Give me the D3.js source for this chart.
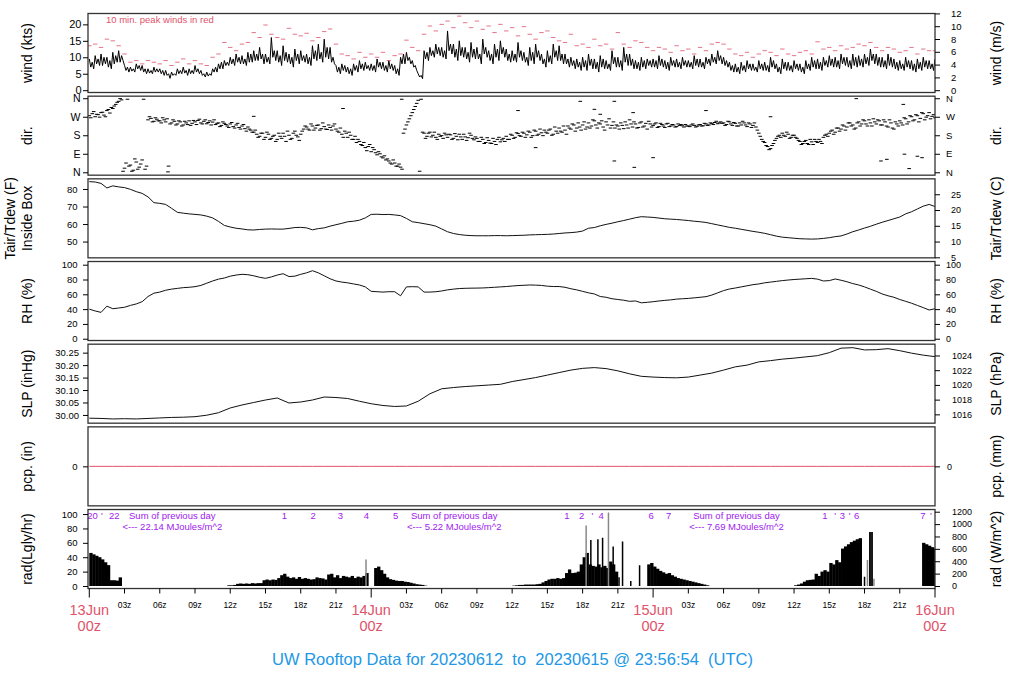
<!DOCTYPE html>
<html><head><meta charset="utf-8">
<script src="https://cdn.jsdelivr.net/npm/d3@7"></script>
<style>body{margin:0;background:#fff}svg{display:block}</style>
</head><body><svg id="c" width="1024" height="700"></svg>
<script>
// ---------------- DATA ----------------
// wind speed (kts), every 7.5 min from 13Jun 00z (one row = 3 h)
const WIND_STEP = 0.125;
const windKts = [
9.5,7,8.5,6.5,10.5,8,9.5,7.5,11,7.5,10,8,10,7,9,6.5,11.5,8,10.5,8.5,12,8.5,10.5,9,
7.5,6,7,5.5,7,5.8,6.5,5.5,8,6.5,7.5,6,7.5,5.5,6.5,5,6.5,5.2,6,5,7,5.5,6.5,5.5,
6.5,5,6,4.5,6,4.5,5,3.6,5.5,4.5,5,4.5,6.5,5,6,5,7,5.2,6,4.5,6.5,5,6,5,
7.5,5.5,6.5,5,6,4.5,5,4,5.5,4.3,5,4.5,6.5,5.5,7,5.5,8,6.5,8.5,6.5,9,7.5,8.5,7.5,
10,8,9.5,7.5,11,8.5,10,8,10.5,8,9.5,7.5,11.5,8.5,11,8.5,12,9,11,9,13,9.5,11,8,
11,8.5,10,8,16,10,12,9,12,8.5,10.5,7.5,13.5,9,11.5,8.5,11,8,10,7,12.5,9,11,8,
12,9,10.5,8.5,11,8,10,7.5,13.5,9.5,12,9,14,9.5,11.5,8.5,15.5,10,13,9.5,13,8.5,10,8,
7.5,5.5,7,5,8,6,7.5,5.5,7,5,6.5,4.5,8,6,7.5,5.5,9,6.5,8,6,8.5,6.5,7.5,6,
8,6,7.5,5.5,9.5,7,8.5,6.5,8.5,6,7.5,5.5,9,6.5,8,6,7.5,5,6.5,4.5,10,8,11,8,
11.5,9,10,8,9,7,7.5,6,5,4,4.5,3.5,12,9.5,11.5,9,13,10.5,12,10,14,11,13,10.5,
13,10,12,9.5,18,12,14,11,14,10,12.5,9,15,10.5,13,10,13,9.5,11.5,8.5,14.5,10,12.5,9.5,
13,9.5,11,8,15.5,11,13,10,12,9,11,8,14,10,12.5,9,15,11,13,10,12.5,9,11,8.5,
12,9,11,8.5,14.5,10,12,9,11.5,8.5,10,7.5,13,9,11.5,8,14,10,12,9,11,8,9.5,7,
12,8.5,10.5,8,14,10,12,9,13.5,9,11,8,11,8,9.5,7,10,7.5,9,6.5,9.5,7,8.5,6,
10,7,9,6,11,7.5,9.5,6.5,9.5,6.5,8.5,5.5,10.5,7,9.5,6.5,9,6.5,8,6,12,8,10,7,
10,7,9,6,13,8.5,11,7.5,11,7.5,9.5,6.5,9,6.5,8.5,6,10,7,9,6.5,9.5,7.5,9,7,
9.5,7,9,6.5,10.5,7.5,9.5,7,9,6.5,8.5,6,10,7.5,9,7,9.5,7,8.5,6.5,10,7.5,9,7,
9,7,8.5,6.5,10.5,7.5,9.5,7,9.5,7,8.5,6.5,10,8,9.5,7.5,11,8.5,10,8,12,9,10.5,8,
10,7.5,9,7,8.5,6,7.5,5.5,8,5.5,7,5,8.5,6,7.5,5.5,9,6.5,8,6,8,6,7,5.5,
9,6.5,8,6,8.5,6,7.5,5.5,10,7,9,6.5,8,5.5,7,5,9.5,6.5,8.5,6,8.5,6,7.5,5.5,
9,6.5,8,6,8,5.5,7,5,9,6.5,8,6,10,7,9,6.5,9.5,6.5,8.5,6,10,7.5,9,7,
10.5,7.5,9.5,7,10,7,9,6.5,11,8,10,7.5,10,7,9,6.5,11,7.5,10,7,10.5,7.5,9.5,7,
11,8,10,7.5,12.5,9,11,8,11,7.5,10,7,10,7,9,6.5,11,7.5,10,7,9.5,6.5,8.5,6,
9,6.5,8,6,10,7,9,6.5,9,6,8,5.5,9.5,6.5,8.5,6,10,7,9,6.5,9,6.5,8,6,
9.5];
// 10-min peak winds (kts), every 30 min
const PEAK_STEP = 0.5;
const peakKts = [
13.5,14,13,15.5,15,13.5,
11,8.5,9,8,9,8.5,
8,9,7.5,8.5,9.5,8,
9,8,7.5,10,11,14.5,
13,12,14,14.5,17.5,16,
19.8,17,16,15.5,18.8,17,
16.5,17.3,15,16,17.8,18.6,
14,11,10.5,9.5,11.5,10,
11,10,11.5,9,10.5,11,
15.2,13,12,17,19.5,18,
20,21,19,22.5,20.5,19,
21,18.5,19.5,17.5,20,18,
19,16.5,19.3,17,15.5,17.5,
18,16,15,14.5,17,13.5,
14,13,15.5,13.5,14,12.5,
17.5,14,13,15,14.5,13,
12,13,12.5,11.5,13.5,12,
12.5,11,13,12,14,14.5,
14,12.5,11,10.5,11.5,10,
11,12,11.5,10.5,12.5,11,
10.5,11.5,12,11,14.7,12.5,
13,12,13.5,12.5,13,14,
13.5,14.5,13,12,13,12.5,
11.5,12,13,11,12.5,12,
12];
// wind direction (deg), every 15 min on the quarter hour ...
const DIR_STEP = 0.25;
const dirDeg = [
275,285,270,280,290,278,300,288,310,330,345,352,
20,355,35,10,50,25,60,15,255,262,248,258,
250,265,245,30,240,248,235,245,230,240,250,238,
245,252,240,248,236,250,244,232,240,228,238,225,
235,222,230,218,225,212,220,205,195,185,175,190,
170,185,165,180,160,175,190,150,180,165,200,172,
185,210,220,205,225,215,230,212,222,208,218,225,
210,195,185,200,170,180,160,145,150,130,120,125,
100,110,85,90,70,60,55,40,45,30,25,190,
230,260,290,320,350,355,190,175,195,180,170,185,
178,190,170,182,165,175,185,160,172,168,180,158,
165,150,160,145,155,140,150,160,148,165,175,160,
180,170,188,175,190,182,195,178,200,185,192,205,
190,210,185,200,215,195,205,225,210,230,215,220,
230,210,240,225,250,215,235,220,245,260,228,215,
225,240,212,230,255,220,235,218,245,225,210,235,
228,240,222,232,218,238,225,230,222,228,226,232,
225,230,228,224,232,226,235,230,238,242,236,245,
240,232,245,228,238,225,230,240,222,235,228,220,
190,160,145,125,115,140,165,180,190,175,185,170,
180,165,150,140,155,135,148,160,145,150,170,185,
190,205,195,215,210,225,220,240,230,215,245,235,
250,225,240,260,235,250,230,245,220,240,210,235,
250,230,260,245,270,255,275,262,285,268,290,272,
265];
// ... and 7.5 min after each quarter hour
const dirDegMid = [
265,295,282,268,292,270,305,315,322,340,358,5,
45,30,5,65,15,40,355,30,270,245,265,250,
240,255,260,235,255,230,250,225,248,232,228,252,
232,258,235,255,242,230,255,238,222,245,232,218,
242,215,238,210,232,200,210,195,205,170,190,160,
195,160,175,150,190,165,175,200,160,190,180,155,
200,225,210,235,205,228,205,240,210,230,205,235,
200,215,170,190,195,160,175,160,135,145,105,135,
120,95,100,75,80,65,45,60,30,40,15,210,
245,275,305,335,5,195,165,190,172,195,160,175,
165,182,185,160,188,158,172,185,155,190,165,172,
150,170,140,168,142,165,135,170,158,150,160,185,
165,192,178,195,170,200,170,205,180,210,178,195,
205,180,220,190,200,225,185,215,235,200,240,205,
245,220,215,255,230,240,250,205,230,215,245,230,
210,228,245,215,235,245,215,240,220,238,248,220,
235,218,238,225,235,222,232,220,235,232,220,225,
222,235,220,230,225,238,228,240,232,248,240,238,
228,248,235,242,225,240,248,230,240,218,240,205,
175,150,130,110,130,155,175,170,180,195,165,180,
170,155,135,150,140,160,135,150,160,140,180,175,
200,185,215,200,230,205,240,225,210,240,225,255,
235,255,225,245,255,230,255,225,255,215,245,225,
240,265,235,275,250,280,245,290,255,275,260,280];
const dirOutliers = [[6.7,2],[14.0,272],[21.6,310],[26.6,355],[36.5,300],[38.0,120],[41.8,345],[43.0,306],[43.5,282],[44.7,345],[44.7,55],[46.3,290],[46.4,24],[48.0,71],[52.5,300],[58.0,270],[65.3,358],[67.4,55],[67.9,63],[69.3,330],[69.4,88],[69.8,18],[70.5,78],[70.9,71]];
// inside-box air temperature (F), every 30 min
const TEMP_STEP = 0.5;
const tempF = [
84.2,84.0,83.2,80.6,81.8,81.2,
80.8,79.8,78.5,77.5,75.5,72.2,
71.8,71.2,69.0,66.7,66.2,65.8,
65.5,65.2,64.5,63.5,61.5,59.2,
58.3,57.6,57.2,56.7,56.6,56.9,
57.1,57.2,57.1,57.1,57.5,58.0,
58.1,57.8,56.7,57.4,57.8,58.8,
59.6,60.4,61.3,61.6,62.2,63.5,
65.5,65.6,65.4,65.5,65.2,64.8,
63.2,61.3,60.8,60.2,59.6,58.8,
57.2,55.6,54.6,54.0,53.6,53.4,
53.3,53.3,53.3,53.4,53.4,53.3,
53.4,53.5,53.6,53.8,53.9,54.0,
54.1,54.3,54.6,54.9,55.1,55.4,
56.0,57.6,58.0,59.0,59.8,60.5,
61.3,62.0,62.8,63.6,64.2,64.0,
63.8,63.4,63.0,62.8,62.6,62.3,
62.0,61.6,61.3,60.9,60.2,59.5,
58.8,58.1,57.6,57.0,56.4,55.8,
55.3,54.7,53.9,53.1,52.5,52.2,
51.9,51.6,51.5,51.4,51.5,51.8,
52.2,52.8,53.2,54.3,55.6,56.6,
57.7,58.7,59.9,61.0,62.0,63.0,
64.0,65.8,67.0,68.6,70.2,71.2,
70.0];
// relative humidity (%), every 30 min
const RH_STEP = 0.5;
const rhPct = [
40,37.5,35.6,44,40.5,41.5,
42.5,45,47,50,57,61.5,
63,65.5,67,68,69,69.5,
70.3,72,75,78,80.5,82,
84.5,86,87,86.5,85,83,
81.6,83.5,86,87.8,84,84.5,
87,89,91.9,89,85,81,
78,76.5,75.5,74,72.6,70,
64,63.5,63,63.5,63.5,58,
70,70.3,70,63,63,63.5,
64.5,66,67,67.8,68.1,68.3,
68.4,68.6,69,69.5,70,70.5,
71.2,71.8,72.2,72.6,72.4,72,
71,70.5,70.5,69.5,67.5,66,
64,62,60.5,57,56,54,
53,52,50.5,51,48.5,49.2,
50,51,51.8,52.5,53.5,54,
54.5,55.2,56,56.8,59,62,
65,67.2,68.5,70,71.5,73,
74,75.5,76.5,77.5,78.5,79.3,
80,80.5,81,81.5,80.5,78,
78.5,80.7,79,77,74.5,72.6,
70,67,64,60.5,58,56,
53,50.5,48,45,42,38.8,
40.5];
// sea level pressure (inHg), hourly
const SLP_STEP = 1;
const slpInHg = [
29.987,29.986,29.984,29.985,29.984,29.986,29.988,29.990,29.991,29.993,29.999,30.009,
30.028,30.040,30.050,30.060,30.068,30.048,30.052,30.060,30.072,30.070,30.066,30.055,
30.045,30.038,30.034,30.036,30.055,30.085,30.105,30.110,30.114,30.117,30.120,30.123,
30.134,30.142,30.150,30.160,30.170,30.180,30.187,30.190,30.186,30.177,30.165,30.155,
30.152,30.150,30.149,30.152,30.160,30.168,30.180,30.193,30.200,30.213,30.218,30.224,
30.228,30.233,30.238,30.250,30.268,30.270,30.261,30.262,30.266,30.258,30.248,30.240,
30.234];
// precipitation (in), hourly
const PCP_STEP = 1;
const pcpIn = [0,0,0,0,0,0,0,0,0,0,0,0,0,0,0,0,0,0,0,0,0,0,0,0,0,0,0,0,0,0,0,0,0,0,0,0,0,0,0,0,0,0,0,0,0,0,0,0,0,0,0,0,0,0,0,0,0,0,0,0,0,0,0,0,0,0,0,0,0,0,0,0,0];
// solar radiation (Langley/hr), every 15 min within each sunlit stretch
const RAD_STEP = 0.25;
const radStarts = [0, 11.75, 36, 60, 70.9];
const radA = [46,44,42,40,37,33,29,8,8,7.5,12];
const radB = [1,1,1.5,3,3.5,3,3.5,3,4,3.5,4,4,
8,9,8,9,8.5,11,15,17,13,11,12,10,
12.5,10,11,10,9,9.5,12,11,10.5,9,16,17,
12,15,11,14,13,12,14,11,13,12,14,18,
0,0,25,27,22,17,12,9.5,8.5,7.5,7,7,
6,5.5,4.5,3.5,2.5,2,1.5,0.5];
const radC = [0.5,1,1.5,1.5,2,2,2,2,2.5,3,5,7,
9,10,10,11,10,11,18,23,18,18.5,20,30,
40,46,30,28,27,30,26,28,25,34,30,20,
0,0,0,0,0,0,0,0,0,0,
30,32,27,24,21,19,17,18,15,13,
11,10,9,8,7,6,5,4,3,2,1];
const radD = [1,2,3.5,6,8,8.5,9,17,14,20,22,20,
32,30,36,33,52,55,58,61,63,65,66.5];
const radE = [60,58,56,54,52];
const radSpikes = [[23.56,37,1],[42.3,84,1],[42.7,64,0],[43.3,65,0],[43.7,67,0],[44.2,102,1],[44.6,55,0],[45.1,12,0],[45.4,62,0],[46.1,7,0],[46.85,29,0],[66.0,13,0],[66.25,36,1],[66.45,75,0],[66.55,75,0],[66.65,75,0],[66.8,10,1]];
const radHourMarks = [[0.27,"20"],[1.08,"'"],[2.13,"22"],[16.61,"1"],[19.06,"2"],[21.37,"3"],[23.59,"4"],[26.09,"5"],
 [40.67,"1"],[41.91,"2"],[42.84,"'"],[43.58,"4"],[47.84,"6"],[49.32,"7"],
 [62.63,"1"],[63.49,"'"],[64.12,"3"],[64.73,"'"],[65.32,"6"],[70.98,"7"],[71.66,"'"]];
const radSumCenters = [7.07, 31.07, 55.1];
const radSumValues = ["22.14","5.22","7.69"];
// axis ticks / labels
const windTicksKts = [0,5,10,15,20];
const windTicksMs = [0,2,4,6,8,10,12];
const dirTicks = [0,90,180,270,360];
const dirLabels = ["N","E","S","W","N"];
const tempTicksF = [50,60,70,80];
const tempTicksC = [5,10,15,20,25];
const rhTicks = [0,20,40,60,80,100];
const slpTicksIn = [30.00,30.05,30.10,30.15,30.20,30.25];
const slpTicksHpa = [1016,1018,1020,1022,1024];
const pcpTicks = [0];
const radTicksL = [0,20,40,60,80,100];
const radTicksW = [0,200,400,600,800,1000,1200];
const hourTicks = [0,3,6,9,12,15,18,21,24,27,30,33,36,39,42,45,48,51,54,57,60,63,66,69,72];
const hourNames = ["00z","03z","06z","09z","12z","15z","18z","21z"];
const dayNames = ["13Jun","14Jun","15Jun","16Jun"];
const titleText = "UW Rooftop Data for 20230612  to  20230615 @ 23:56:54  (UTC)";

// ---------------- DRAW ----------------
const FONT = '"Liberation Sans", Arial, Helvetica, sans-serif';
const RED = "#DF536B", PURPLE = "#A020F0", BLUE = "#2297E6";
const svg = d3.select("#c").attr("font-family", FONT);
const X0 = 88, X1 = 935, PT = 13.5, PH = 79, PS = 82.67;
const x = d3.scaleLinear().domain([-0.11, 72]).range([X0, X1]);
const order = ["wind","dir","temp","rh","slp","pcp","rad"];
const domains = {wind:[-0.7,23.3], dir:[-14,370], temp:[40.7,85.8], rh:[-2.4,104.3], slp:[29.967,30.284], pcp:[-1,1], rad:[-3.5,106.3]};
const ys = {}, tops = {};
const defs = svg.append("defs");
order.forEach((k,i) => {
  const top = PT + i*PS; tops[k] = top;
  ys[k] = d3.scaleLinear().domain(domains[k]).range([top+PH, top]);
  defs.append("clipPath").attr("id","cp-"+k).append("rect").attr("x",X0).attr("y",top).attr("width",X1-X0).attr("height",PH);
});
const layer = k => svg.append("g").attr("clip-path",`url(#cp-${k})`);

// wind
const gw = layer("wind");
gw.append("path").datum(windKts).attr("fill","none").attr("stroke","#000").attr("stroke-width",1)
  .attr("d", d3.line().x((d,i)=>x(i*WIND_STEP)).y(d=>ys.wind(d)));
gw.selectAll("line.pk").data(peakKts).join("line").attr("class","pk")
  .attr("x1",(d,i)=>x(i*PEAK_STEP)-2.2).attr("x2",(d,i)=>x(i*PEAK_STEP)+2.2)
  .attr("y1",d=>ys.wind(d)).attr("y2",d=>ys.wind(d)).attr("stroke",RED).attr("stroke-width",1).attr("opacity",0.8);
svg.append("text").attr("x",106).attr("y",23).attr("font-size",9.5).attr("fill",RED).text("10 min. peak winds in red");

// dir
const gd = layer("dir");
const dirPts = dirDeg.map((d,i)=>[i*DIR_STEP,d])
  .concat(dirDegMid.map((d,i)=>[i*DIR_STEP+DIR_STEP/2,d]))
  .concat(dirOutliers);
gd.selectAll("line").data(dirPts).join("line")
  .attr("x1",d=>x(d[0])-1.8).attr("x2",d=>x(d[0])+1.8).attr("y1",d=>ys.dir(d[1])).attr("y2",d=>ys.dir(d[1]))
  .attr("stroke","#000").attr("stroke-width",1);

// temp / rh / slp / pcp lines
function series(k, arr, step, color){
  layer(k).append("path").datum(arr).attr("fill","none").attr("stroke",color).attr("stroke-width",1)
    .attr("d", d3.line().x((d,i)=>x(i*step)).y(d=>ys[k](d)));
}
series("temp", tempF, TEMP_STEP, "#111");
series("rh", rhPct, RH_STEP, "#111");
series("slp", slpInHg, SLP_STEP, "#111");
series("pcp", pcpIn, PCP_STEP, RED);

// rad
const gr = layer("rad");
const radSets = [radA, radB, radC, radD, radE];
const radBars = [];
radSets.forEach((arr,j)=>arr.forEach((v,i)=>{ if(v>0) radBars.push([radStarts[j]+i*RAD_STEP, v]); }));
gr.selectAll("rect").data(radBars).join("rect")
  .attr("x",d=>x(d[0])).attr("width",d=>x(d[0]+RAD_STEP)-x(d[0])+0.4)
  .attr("y",d=>ys.rad(d[1])).attr("height",d=>ys.rad(0)-ys.rad(d[1])).attr("fill","#000");
gr.selectAll("line").data(radSpikes).join("line")
  .attr("x1",d=>x(d[0])).attr("x2",d=>x(d[0])).attr("y1",d=>ys.rad(0)).attr("y2",d=>ys.rad(d[1]))
  .attr("stroke",d=>d[2]?"#888":"#000").attr("stroke-width",1.5);
svg.append("g").selectAll("text").data(radHourMarks).join("text")
  .attr("x",d=>x(d[0])).attr("y",518.5).attr("text-anchor","middle").attr("font-size",9.5).attr("fill",PURPLE).text(d=>d[1]);
radSumCenters.forEach((c,i)=>{
  svg.append("text").attr("x",x(c)).attr("y",518.5).attr("text-anchor","middle").attr("font-size",9.5).attr("fill",PURPLE).text("Sum of previous day");
  svg.append("text").attr("x",x(c)).attr("y",530).attr("text-anchor","middle").attr("font-size",9.5).attr("fill",PURPLE).text("<--- "+radSumValues[i]+" MJoules/m^2");
});

// frames
order.forEach(k=>{
  svg.append("rect").attr("x",X0).attr("y",tops[k]).attr("width",X1-X0).attr("height",PH)
    .attr("fill","none").attr("stroke","#333").attr("stroke-width",1.3);
});

// axes
function axis(side, k, scale, vals, fmt, fs, pad){
  const ax = (side==="L"?d3.axisLeft(scale):d3.axisRight(scale)).tickValues(vals).tickFormat(fmt).tickSize(5).tickPadding(pad);
  const g = svg.append("g").attr("transform",`translate(${side==="L"?X0:X1},0)`).call(ax);
  g.attr("font-family",FONT).attr("font-size",fs);
  g.select(".domain").remove();
  g.selectAll("line").attr("stroke","#000");
  g.selectAll("text").attr("fill","#000");
}
const derive = (k,f) => d3.scaleLinear().domain(domains[k].map(f)).range(ys[k].range());
const fmtInt = d=>String(d);
axis("L","wind",ys.wind,windTicksKts,fmtInt,11,1.5);
axis("R","wind",derive("wind",v=>v*0.514444),windTicksMs,fmtInt,9.5,11);
axis("L","dir",ys.dir,dirTicks,(d,i)=>dirLabels[i],10.5,2.5);
axis("R","dir",ys.dir,dirTicks,(d,i)=>dirLabels[i],9.5,6);
axis("L","temp",ys.temp,tempTicksF,fmtInt,9.5,5.5);
axis("R","temp",derive("temp",v=>(v-32)*5/9),tempTicksC,fmtInt,9,11);
axis("L","rh",ys.rh,rhTicks,fmtInt,9.5,5.5);
axis("R","rh",ys.rh,rhTicks,fmtInt,9,6);
axis("L","slp",ys.slp,slpTicksIn,d=>d.toFixed(2),9.5,4);
axis("R","slp",derive("slp",v=>v*33.8639),slpTicksHpa,fmtInt,9,12);
axis("L","pcp",ys.pcp,pcpTicks,fmtInt,9.5,5.5);
axis("R","pcp",derive("pcp",v=>v*25.4),pcpTicks,fmtInt,9,7);
axis("L","rad",ys.rad,radTicksL,fmtInt,9.5,5.5);
axis("R","rad",derive("rad",v=>v*11.622),radTicksW,fmtInt,9,12);

// x axis
const yb = tops.rad + PH;
const gx = svg.append("g");
gx.selectAll("line").data(hourTicks).join("line")
  .attr("x1",d=>x(d)).attr("x2",d=>x(d)).attr("y1",yb).attr("y2",d=>d%24===0?yb+9:yb+5).attr("stroke","#000");
gx.selectAll("text.h").data(hourTicks.filter(d=>d%24!==0)).join("text").attr("class","h")
  .attr("x",d=>x(d)).attr("y",608).attr("text-anchor","middle").attr("font-size",8.5).attr("fill","#000")
  .text(d=>hourNames[(d%24)/3]);
gx.selectAll("text.d1").data(hourTicks.filter(d=>d%24===0)).join("text").attr("class","d1")
  .attr("x",d=>x(d)).attr("y",615).attr("text-anchor","middle").attr("font-size",14.5).attr("fill",RED)
  .text(d=>dayNames[d/24]);
gx.selectAll("text.d2").data(hourTicks.filter(d=>d%24===0)).join("text").attr("class","d2")
  .attr("x",d=>x(d)).attr("y",631).attr("text-anchor","middle").attr("font-size",14.5).attr("fill",RED)
  .text(hourNames[0]);

// side labels
const leftLabels = {wind:["wind (kts)"], dir:["dir."], temp:["Tair/Tdew (F)","Inside Box"], rh:["RH (%)"], slp:["SLP (inHg)"], pcp:["pcp. (in)"], rad:["rad(Lgly/hr)"]};
const rightLabels = {wind:"wind (m/s)", dir:"dir.", temp:"Tair/Tdew (C)", rh:"RH (%)", slp:"SLP (hPa)", pcp:"pcp. (mm)", rad:"rad (W/m^2)"};
function vlabel(cx, cy, t){
  svg.append("text").attr("transform",`translate(${cx},${cy}) rotate(-90)`).attr("text-anchor","middle")
    .attr("dy","0.35em").attr("font-size",14).attr("fill","#000").text(t);
}
order.forEach(k=>{
  const cy = tops[k] + PH/2;
  const L = leftLabels[k];
  if (L.length===2){ vlabel(10, cy, L[0]); vlabel(27, cy, L[1]); } else vlabel(27, cy, L[0]);
  vlabel(996, cy, rightLabels[k]);
});

// title
svg.append("text").attr("x",512.5).attr("y",665).attr("text-anchor","middle").attr("font-size",16.5)
  .attr("fill",BLUE).style("white-space","pre").text(titleText);
</script></body></html>
